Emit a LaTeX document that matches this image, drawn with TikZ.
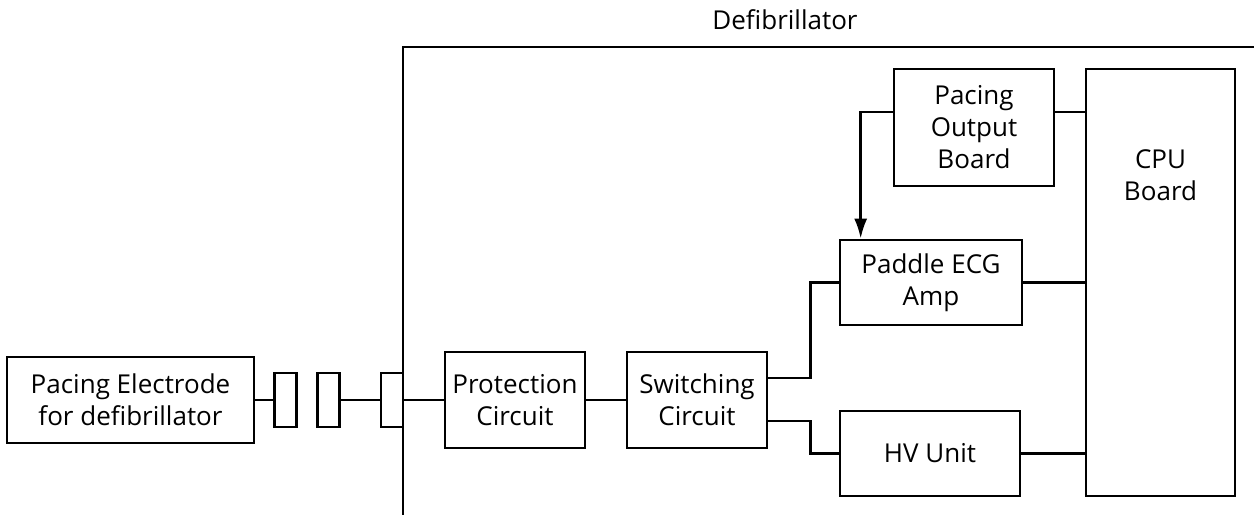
\documentclass[tikz,border=0pt]{standalone}
\usepackage{fontspec}
\setmainfont{Open Sans}
\usetikzlibrary{arrows.meta,positioning}

\begin{document}
\begin{tikzpicture}[
  x=0.2mm, y=-0.2mm,
  font=\fontsize{14.8}{18.2}\selectfont,
  base/.style  = {rectangle, draw=black, line width=1.5pt, align=center, inner sep=2pt},
  blk/.style   = {base, minimum width=28mm, minimum height=19.2mm},
  plug/.style  = {base, minimum width=4.4mm, minimum height=10.8mm, inner sep=0pt},
  wire/.style  = {draw=black, line width=1.5pt},
  arw/.style   = {wire, -{Latex[length=4mm, width=2.6mm]}},
]
\useasboundingbox (0,0) rectangle (1254,515);

% ── housing of the defibrillator ────────────────────────────────────────
\coordinate (fBot) at (403,515);
\coordinate (fTop) at (1254,47);
\draw[wire] (fBot) |- (fTop);
\node (title) at (785,20) {Defibrillator};

% ── electrode and plugs ────────────────────────────────────────────────
\node[base, minimum width=49.4mm, minimum height=17.2mm] (elec) at (130.5,400)
     {Pacing Electrode\\for defibrillator};
\node[plug] (plugA) at (285.5,400) {};
\node[plug] (plugB) at (328.5,400) {};
\node[plug] (plugC) at (392,400) {};

% ── signal path ────────────────────────────────────────────────────────
\node[blk] (prot) at (515,400) {Protection\\Circuit};
\node[blk] (sw) at (697,400) {Switching\\Circuit};
\node[blk, minimum width=36.4mm, minimum height=17mm] (ecg) at (931,282.5) {Paddle ECG\\Amp};
\node[blk, minimum width=36mm, minimum height=17mm] (hv) at (930,453.5) {HV Unit};
\node[blk, minimum width=32mm, minimum height=23.4mm] (pob) at (974,127.5) {Pacing\\Output\\Board};
\node[base, minimum width=29.8mm, minimum height=85.4mm] (cpu) at (1160.5,282.5) {};
\node[align=center, below=15.2mm of cpu.north] (cpuTxt) {CPU\\Board};

\draw[wire] (elec) -- (plugA);
\draw[wire] (plugB) -- (plugC);
\draw[wire] (plugC.east) -- (prot);
\draw[wire] (prot) -- (sw);
\draw[wire] ([yshift=4.4mm]sw.east) -- ++(8.4mm,0) |- (ecg.west);
\draw[wire] ([yshift=-4.2mm]sw.east) -- ++(8.4mm,0) |- (hv.west);

% ── links to the CPU board ─────────────────────────────────────────────
\coordinate (pobOut) at ([yshift=3.1mm]pob.east);
\coordinate (pobIn) at ([yshift=3.1mm]pob.west);
\draw[wire] (pobOut) -- (pobOut -| cpu.west);
\draw[wire] (ecg.east) -- (ecg.east -| cpu.west);
\draw[wire] (hv.east) -- (hv.east -| cpu.west);
\draw[arw] (pobIn) -| ([xshift=4.4mm]ecg.north west);
\end{tikzpicture}
\end{document}
